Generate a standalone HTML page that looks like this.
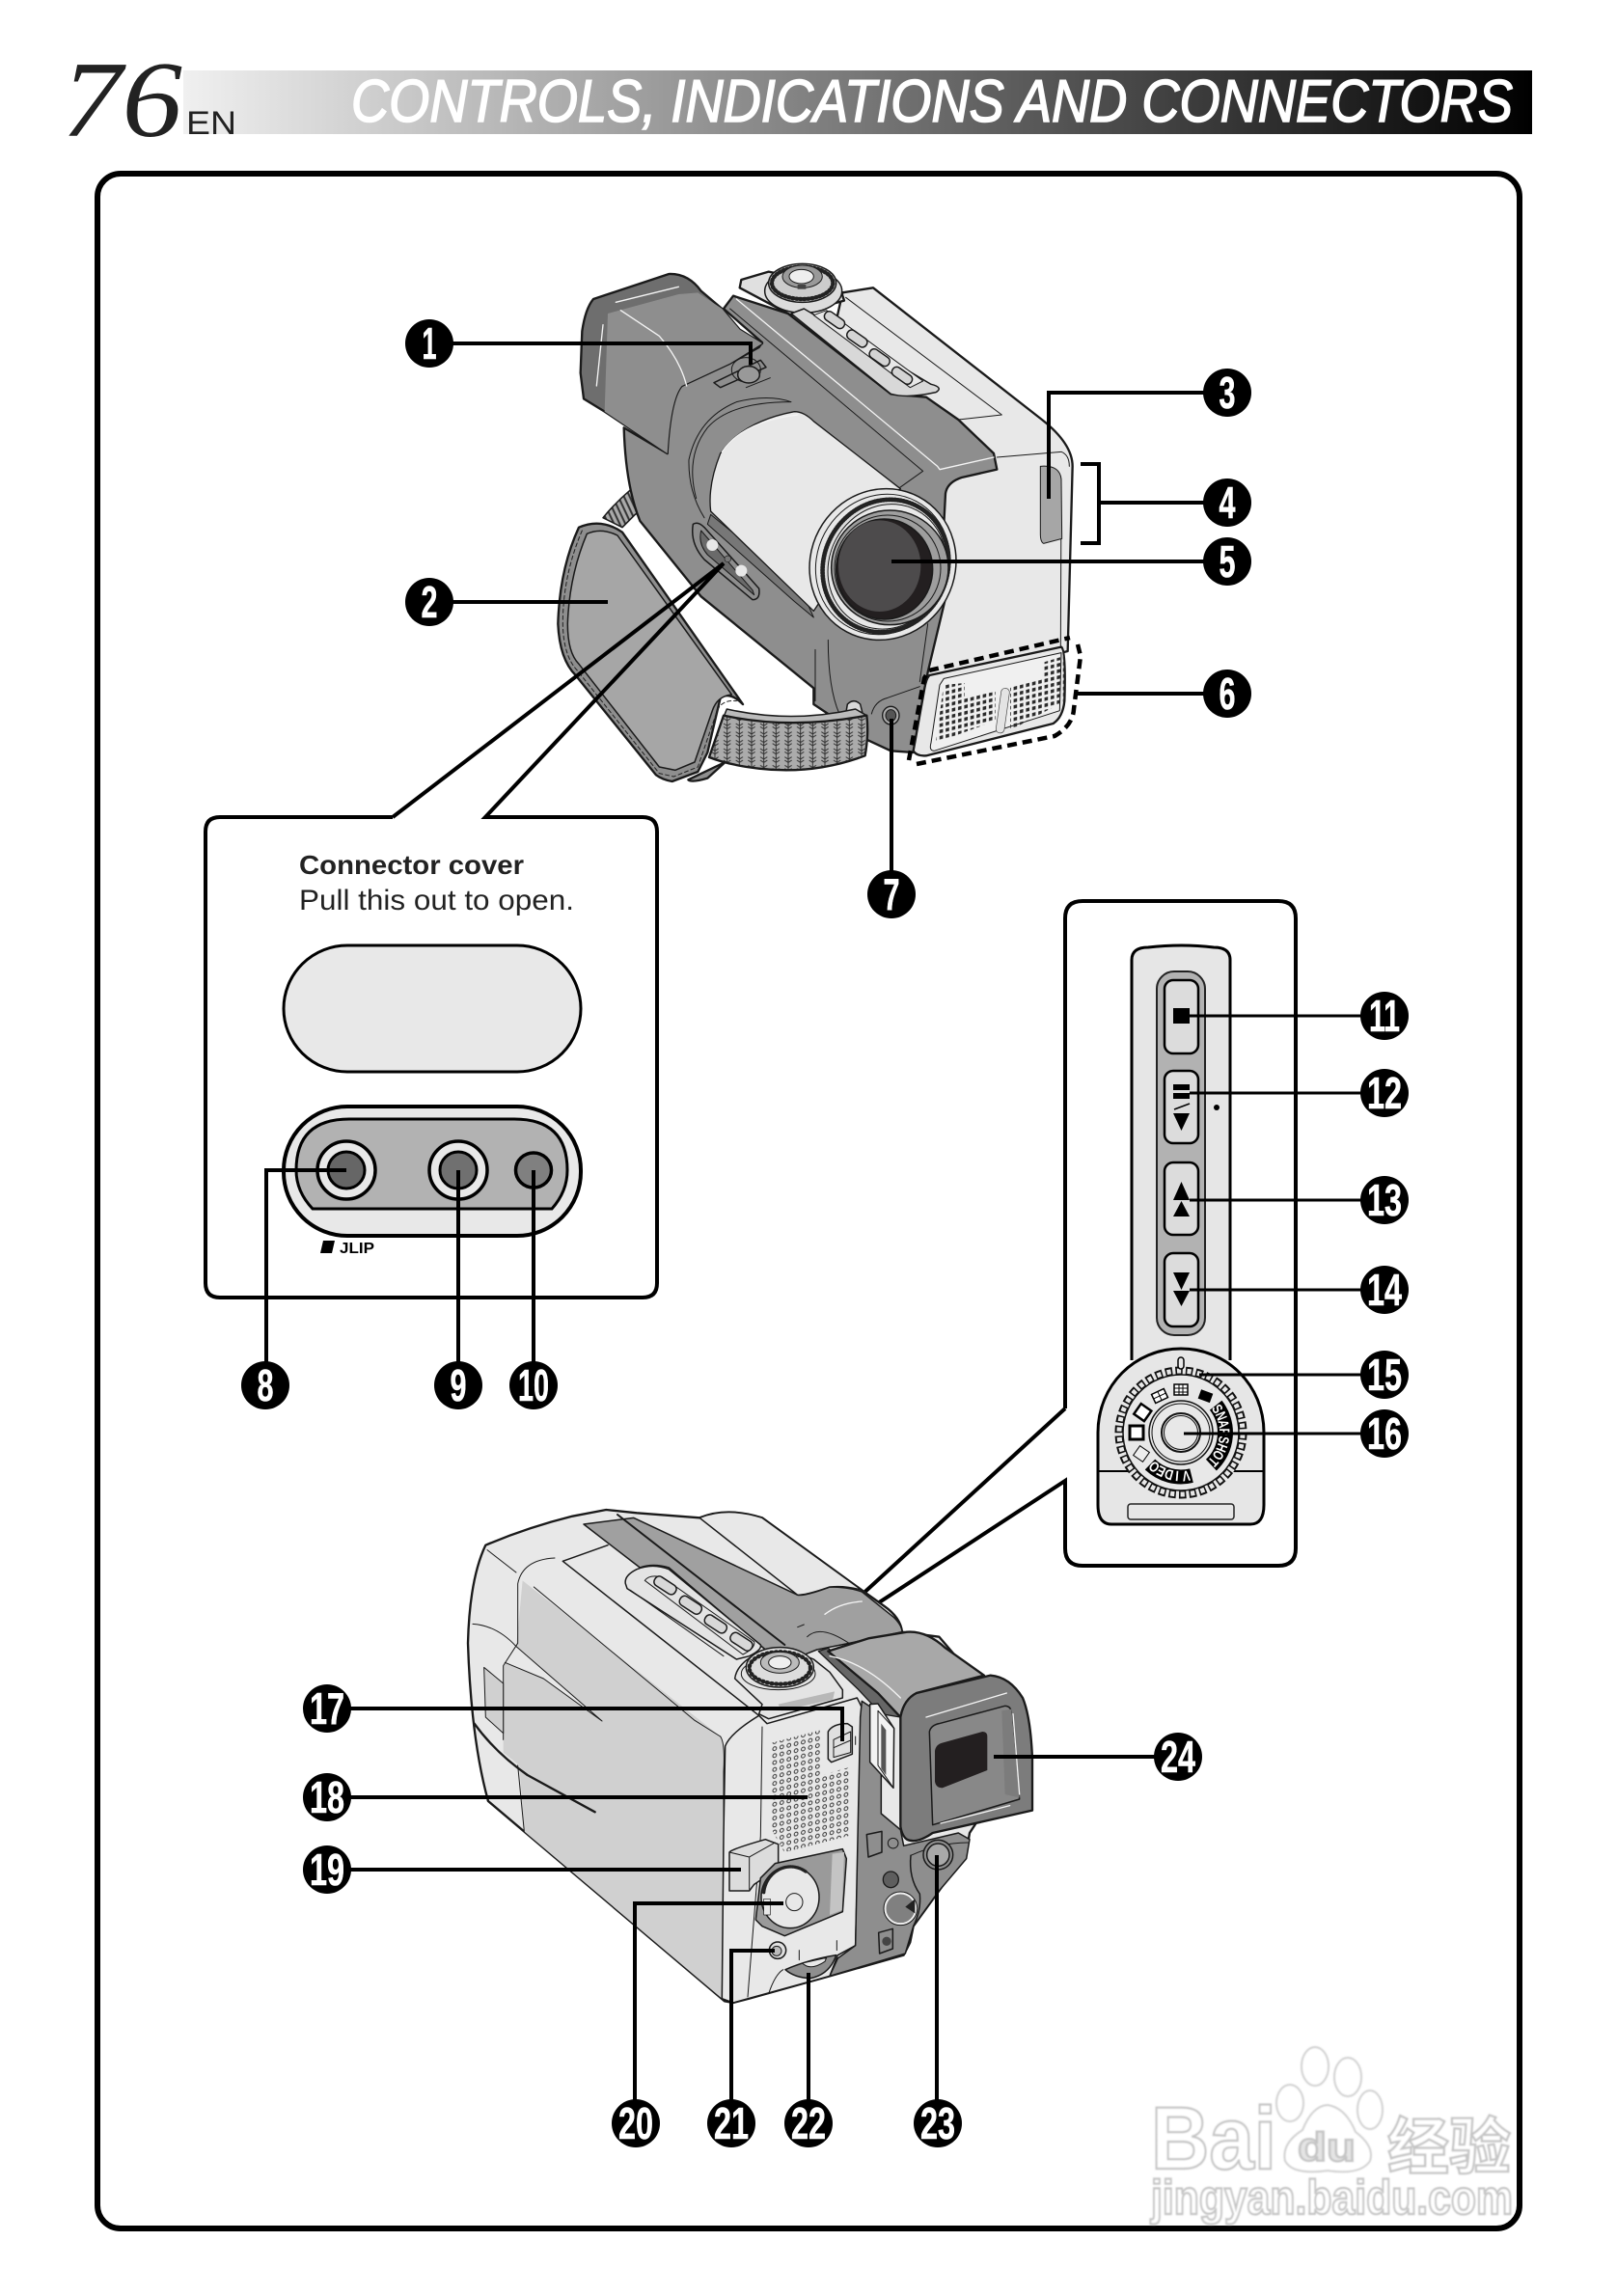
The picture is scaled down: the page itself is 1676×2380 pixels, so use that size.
<!DOCTYPE html>
<html><head><meta charset="utf-8"><title>Controls, Indications and Connectors</title>
<style>
html,body{margin:0;padding:0;background:#fff}
svg{display:block}
.b circle{fill:#000}
.b text{font-family:"Liberation Sans",sans-serif;font-weight:700;font-size:46px;fill:#fff;text-anchor:middle;stroke:#fff;stroke-width:.6}
.l{fill:none;stroke:#000;stroke-width:4}
.l3{fill:none;stroke:#000;stroke-width:3}
.c *{stroke-linejoin:round;stroke-linecap:round}
.k{stroke:#1a1a1a;stroke-width:7}
.m{stroke:#1a1a1a;stroke-width:4.5}
.f{stroke:#1a1a1a;stroke-width:3;fill:none}
.h{stroke:#f4f4f4;stroke-width:4;fill:none}
.w{fill:#fff;stroke:#c4c4c4;stroke-width:2.2;font-family:"Liberation Sans","Noto Sans CJK SC",sans-serif;font-weight:700}
.d text{font-family:"Liberation Sans",sans-serif;font-weight:700;font-size:15px;fill:#fff;text-anchor:middle}
</style></head><body>
<svg xmlns="http://www.w3.org/2000/svg" width="1676" height="2380" viewBox="0 0 1676 2380">
<defs>
<linearGradient id="g" x1="0" x2="1" y1="0" y2="0"><stop offset="0" stop-color="#f0f0f0"/><stop offset="1" stop-color="#000"/></linearGradient>
<filter id="bl"><feGaussianBlur stdDeviation="0.9"/></filter>
<pattern id="dots" width="6.4" height="6.4" patternUnits="userSpaceOnUse" patternTransform="skewY(-14)"><rect x="1" y="1" width="3.6" height="3.6" fill="#2a2a2a"/></pattern>
<pattern id="sp" width="7.4" height="7.2" patternUnits="userSpaceOnUse" patternTransform="skewY(-13)"><circle cx="3.700" cy="3.600" r="1.900" fill="#e8e8e8" stroke="#333" stroke-width="1"/></pattern>
<pattern id="web" width="38" height="26" patternUnits="userSpaceOnUse"><rect width="38" height="26" fill="#ababab"/><path d="M19,0V26M8,6L19,13L30,6M8,16L19,23L30,16" stroke="#333" stroke-width="3" fill="none"/></pattern>
<pattern id="web2" width="16" height="16" patternUnits="userSpaceOnUse" patternTransform="rotate(-25)"><rect width="16" height="16" fill="#aaa"/><path d="M4,0V16" stroke="#333" stroke-width="6"/></pattern>
</defs>
<rect width="1676" height="2380" fill="#fff"/>

<!-- header -->
<rect x="190" y="73" width="1398" height="66" fill="url(#g)"/>
<text x="64" y="141" font-family="'Liberation Serif',serif" font-style="italic" font-size="112" fill="#222" textLength="125" lengthAdjust="spacingAndGlyphs">76</text>
<text x="193" y="139" font-family="'Liberation Sans',sans-serif" font-size="34" fill="#222" textLength="52" lengthAdjust="spacingAndGlyphs">EN</text>
<text x="364" y="126" font-family="'Liberation Sans',sans-serif" font-style="italic" font-size="62" fill="#fff" stroke="#fff" stroke-width="1.6" textLength="1204" lengthAdjust="spacingAndGlyphs">CONTROLS, INDICATIONS AND CONNECTORS</text>

<!-- frame -->
<rect x="101" y="180" width="1474" height="2130" rx="24" fill="#fff" stroke="#000" stroke-width="6"/>

<!-- TOP CAMERA crop A -->
<g class="c" transform="translate(590,270) scale(.33333)">
<path class="m" fill="url(#web2)" d="M275,650Q298,670 282,745L205,790L165,830L105,800Q170,720 275,650Z"/>
<path class="k" fill="#e8e8e8" d="M850,100L945,85L1470,495Q1565,570 1565,640L1550,1215L1100,1330L900,1100L760,500Z"/>
<path class="f" d="M860,115L1345,480L1210,495M1330,612L1530,595Q1555,605 1555,640"/>
<path class="f" d="M1530,700L1528,1200"/>
<path class="k" fill="#8e8e8e" d="M480,150L510,110L680,165L1000,415L1110,425L1210,495L1320,600L1330,650L1220,675Q1175,690 1170,725L1165,820L1170,1050L1115,1280L1070,1530L1000,1525L925,1490L760,1380V1330L410,1045L220,810Q175,700 170,520L305,600L310,460Q320,410 350,390L500,320L590,270L600,255Z"/>
<path class="h" d="M520,120L1145,640L1152,650L1320,612"/>
<path class="f" d="M500,150L1100,655L1020,712"/>
<path class="k" fill="#6e6e6e" d="M40,220Q50,150 75,120L310,42Q370,40 410,95L475,150L530,215L600,258L500,320L350,390Q315,430 305,600L170,510L110,470L45,430L35,350Z"/>
<path fill="#8e8e8e" d="M120,165L340,105L400,100L475,150L530,215L600,258L500,320L350,390Q315,430 305,600L170,510L110,470Z"/>
<path class="h" d="M145,130L340,82M160,155L280,235Q345,310 365,390M105,200L85,390"/>
<path class="k" fill="#e0e0e0" d="M535,60L620,35L840,80L855,125L690,170L530,85Z"/>
<ellipse class="m" cx="728" cy="95" rx="120" ry="68" fill="#dcdcdc"/>
<ellipse class="m" cx="725" cy="70" rx="105" ry="60" fill="#ccc"/>
<ellipse cx="725" cy="70" rx="95" ry="50" fill="none" stroke="#222" stroke-width="13" stroke-dasharray="4 8"/>
<ellipse class="f" cx="725" cy="50" rx="62" ry="35" style="fill:#999"/>
<ellipse class="f" cx="722" cy="50" rx="38" ry="22" style="fill:#eee"/>
<rect x="710" y="75" width="26" height="14" fill="#444"/>
<path class="m" fill="#d8d8d8" d="M690,165L730,150L1125,385Q1165,395 1140,410Q1050,430 1000,415Z"/>
<path class="f" style="fill:#e8e8e8" d="M760,170L800,155L1100,375L1060,395Z"/>
<g class="m" fill="#d4d4d4">
<rect x="790" y="170" width="70" height="30" rx="14" transform="rotate(35 825 185)"/>
<rect x="860" y="228" width="70" height="30" rx="14" transform="rotate(35 895 243)"/>
<rect x="930" y="287" width="70" height="30" rx="14" transform="rotate(35 965 302)"/>
<rect x="1000" y="343" width="70" height="30" rx="14" transform="rotate(35 1035 358)"/>
</g>
<path class="m" fill="#8e8e8e" d="M450,380L595,310L612,332L470,395Z"/>
<ellipse class="f" cx="550" cy="340" rx="45" ry="38"/>
<ellipse class="m" cx="558" cy="355" rx="34" ry="26" fill="#999"/>
<path class="f" d="M550,395L625,365"/>
<path class="f" d="M395,740Q360,610 430,520Q500,440 690,440Q620,415 520,440Q400,490 372,620Q370,720 420,800"/>
<path fill="#777" stroke="#1a1a1a" stroke-width="3" d="M440,790L720,1020L760,1110L700,1060L430,820Z"/>
<path class="k" fill="#e8e8e8" d="M470,600Q540,500 700,470Q730,470 760,500L1030,710L1000,730L760,1090L440,780Q430,700 470,600Z" style="stroke-width:4"/>
<path class="h" d="M475,595Q540,500 710,480"/>
<path class="m" fill="#8e8e8e" d="M385,820Q400,810 420,830L590,1020Q595,1055 570,1055L420,930Q375,880 385,820Z"/>
<path class="f" style="fill:#6a6a6a" d="M410,840L570,1025L575,1040L430,915Q400,880 410,840Z"/>
<circle cx="445" cy="885" r="18" fill="#e8e8e8"/><circle cx="535" cy="965" r="18" fill="#e8e8e8"/>
<circle cx="493" cy="928" r="10" fill="#777" stroke="#222" stroke-width="2"/>
<path class="f" style="fill:#a6a6a6" d="M1465,640Q1525,635 1530,680L1532,865L1475,880Q1465,875 1465,850Z"/>
<g transform="rotate(28 975 945)">
<ellipse class="m" cx="975" cy="945" rx="225" ry="238" fill="#e8e8e8"/>
<ellipse class="f" cx="975" cy="945" rx="205" ry="222"/>
<ellipse cx="985" cy="945" rx="192" ry="210" fill="#dcdcdc" stroke="#222" stroke-width="14" stroke-dasharray="4 5"/>
<ellipse class="f" cx="990" cy="945" rx="180" ry="198" style="fill:#e8e8e8"/>
</g>
<ellipse class="m" cx="997" cy="955" rx="182" ry="178" fill="#9e9e9e"/>
<ellipse class="f" cx="990" cy="957" rx="165" ry="165"/>
<ellipse class="m" cx="980" cy="960" rx="150" ry="156" fill="#231f20"/>
<ellipse cx="965" cy="950" rx="128" ry="142" fill="#4d4b4c"/>
</g>

<!-- crop B: pad, strap -->
<g class="c" transform="translate(570,540) scale(.33333)">
<path class="k" fill="#8e8e8e" d="M440,800L545,750L490,800Q440,815 430,805Z"/>
<path class="k" fill="#8e8e8e" d="M90,20Q160,-10 225,35L600,570Q560,530 530,550L490,720L460,780L380,810Q350,805 330,790L80,480Q30,430 25,320Q30,150 90,20Z"/>
<path class="m" fill="#a6a6a6" d="M115,40Q160,20 210,45L565,540Q520,545 505,590L450,750L390,775L340,765L90,445Q55,410 55,320Q60,170 115,40Z"/>
<path fill="none" stroke="#222" stroke-width="3" stroke-dasharray="12 9" d="M100,30Q40,170 40,320Q42,420 85,465L340,785L385,795L460,765L520,590Q535,555 580,560"/>
<path class="f" d="M825,400V560M865,370Q865,520 900,600M1175,320L1150,500"/>
<path class="f" d="M1000,600Q1010,560 1050,550L1150,515"/>
<ellipse cx="1060" cy="605" rx="26" ry="28" fill="#aaa" stroke="#1a1a1a" stroke-width="4"/>
<ellipse cx="1060" cy="605" rx="16" ry="18" fill="#555" stroke="#1a1a1a" stroke-width="3"/>
<path class="m" fill="#d8d8d8" d="M920,600L925,570Q945,550 965,570L975,610Z"/>
<path class="m" fill="#bbb" d="M550,585Q750,630 950,585L985,605Q750,650 540,610Z"/>
<path class="k" fill="url(#web)" d="M540,605Q750,650 985,605Q992,660 980,730Q820,790 650,770Q560,760 495,735Z"/>
<path class="k" fill="#e8e8e8" d="M1180,480L1590,392Q1605,400 1600,560Q1595,610 1565,630L1170,730Q1140,732 1130,715L1165,520Q1170,490 1180,480Z"/>
<path class="f" style="fill:#f0f0f0" d="M1225,490L1590,410L1585,590L1195,715Q1178,715 1185,690L1212,510Z"/>
<rect x="1395" y="520" width="26" height="140" rx="12" fill="#e4e4e4" stroke="#444" stroke-width="2" transform="rotate(8 1408 590)"/>
</g>
<path fill="url(#dots)" d="M978,710L1000,708L1000,723L1032,717L1032,747L970,770Z"/>
<path fill="url(#dots)" d="M1047,713L1080,703L1080,687L1103,680L1103,727L1047,757Z"/>
<path fill="none" stroke="#000" stroke-width="4.500" stroke-dasharray="10 6" d="M942,788L958,703L963,695L1109,661M950,792L1093,763Q1112,752 1113,735L1120,680L1117,668"/>

<!-- connector panel -->
<path class="l" d="M407,847H228Q213,847 213,862V1330Q213,1345 228,1345H666Q681,1345 681,1330V862Q681,847 666,847H503L750,584L407,847"/>
<text x="310" y="906" font-family="'Liberation Sans',sans-serif" font-weight="700" font-size="28" fill="#222" textLength="233" lengthAdjust="spacingAndGlyphs">Connector cover</text>
<text x="310" y="943" font-family="'Liberation Sans',sans-serif" font-size="30" fill="#222" textLength="285" lengthAdjust="spacingAndGlyphs">Pull this out to open.</text>
<rect x="294" y="980" width="308" height="131" rx="66" fill="#e8e8e8" stroke="#000" stroke-width="3"/>
<rect x="294" y="1147" width="308" height="134" rx="66" fill="#e8e8e8" stroke="#000" stroke-width="4"/>
<path d="M324,1253Q307,1235 307,1213Q307,1160 362,1160H533Q588,1160 588,1213Q588,1235 572,1253Z" fill="#b2b2b2" stroke="#000" stroke-width="3"/>
<circle cx="359" cy="1213" r="30" fill="#e8e8e8" stroke="#000" stroke-width="3.500"/><circle cx="359" cy="1213" r="19" fill="#666" stroke="#000" stroke-width="3"/>
<circle cx="475" cy="1213" r="30" fill="#e8e8e8" stroke="#000" stroke-width="3.500"/><circle cx="475" cy="1213" r="19" fill="#707070" stroke="#000" stroke-width="3"/>
<ellipse cx="553" cy="1213" rx="18.500" ry="18" fill="#808080" stroke="#000" stroke-width="3.500"/>
<path class="l" d="M359,1213H276V1436M475,1213V1436M553,1213V1436"/>
<path d="M335,1286H347L344,1299H332Z" fill="#000"/>
<text x="352" y="1299" font-family="'Liberation Sans',sans-serif" font-weight="700" font-size="16" fill="#000" textLength="36" lengthAdjust="spacingAndGlyphs">JLIP</text>

<!-- control panel -->
<path class="l" d="M1104,1460V952Q1104,934 1122,934H1325Q1343,934 1343,952V1605Q1343,1623 1325,1623H1122Q1104,1623 1104,1605V1535L818,1722L1104,1460"/>
<path d="M1173,1410V995Q1173,982 1190,982Q1225,978 1258,982Q1275,982 1275,995V1410" fill="#e6e6e6" stroke="#000" stroke-width="3"/>
<path d="M1138,1560V1485C1138,1436 1176,1398 1224,1398C1272,1398 1310,1436 1310,1485V1560Q1310,1580 1296,1580H1152Q1138,1580 1138,1560Z" fill="#e6e6e6" stroke="#000" stroke-width="3"/>
<path d="M1138,1525H1310" stroke="#000" stroke-width="2"/>
<rect x="1169" y="1559" width="110" height="16" rx="3" fill="#e6e6e6" stroke="#222" stroke-width="1.500"/>
<rect x="1199" y="1007" width="50" height="377" rx="18" fill="#b2b2b2" stroke="#222" stroke-width="2"/>
<g fill="#dcdcdc" stroke="#000" stroke-width="2.500">
<rect x="1207" y="1016" width="35" height="76" rx="9"/><rect x="1207" y="1110" width="35" height="75" rx="9"/><rect x="1207" y="1205" width="35" height="75" rx="9"/><rect x="1207" y="1299" width="35" height="76" rx="9"/>
</g>
<rect x="1216" y="1045" width="17" height="16" fill="#000"/>
<rect x="1216" y="1124" width="17" height="6" fill="#000"/><rect x="1216" y="1133" width="17" height="6" fill="#000"/>
<path d="M1217,1150L1233,1144" stroke="#000" stroke-width="1.500"/>
<path d="M1216,1154H1233L1224.500,1172ZM1224.500,1225L1233,1244H1216ZM1224.500,1245L1233,1261H1216ZM1216,1319H1233L1224.500,1337ZM1216,1338H1233L1224.500,1354Z" fill="#000"/>
<circle cx="1261" cy="1148" r="3" fill="#000"/>
<!-- dial -->
<circle cx="1224" cy="1485" r="68" fill="#e8e8e8"/>
<circle cx="1224" cy="1485" r="64" fill="none" stroke="#111" stroke-width="9" pathLength="380" stroke-dasharray="7 3"/>
<circle cx="1224" cy="1485" r="64" fill="none" stroke="#e8e8e8" stroke-width="5" pathLength="380" stroke-dasharray="4 6" stroke-dashoffset="-1.500"/>
<circle cx="1224" cy="1485" r="60" fill="#e8e8e8" stroke="#111" stroke-width="1.500"/>
<path d="M1260.200,1456.700A46,46 0 0 1 1255.400,1518.600" fill="none" stroke="#000" stroke-width="16"/>
<path d="M1235,1529.600A46,46 0 0 1 1192,1518" fill="none" stroke="#000" stroke-width="15"/>
<g class="d">
<text transform="translate(1257.600,1463.200) rotate(57) scale(.75,1)">S</text>
<text transform="translate(1261,1469.800) rotate(67.700) scale(.75,1)">N</text>
<text transform="translate(1263.200,1477) rotate(78.400) scale(.75,1)">A</text>
<text transform="translate(1264,1484.400) rotate(89.100) scale(.75,1)">P</text>
<text transform="translate(1263.400,1491.800) rotate(99.800) scale(.75,1)">S</text>
<text transform="translate(1261.500,1499) rotate(110.500) scale(.75,1)">H</text>
<text transform="translate(1258.200,1505.700) rotate(121.200) scale(.75,1)">O</text>
<text transform="translate(1253.700,1511.800) rotate(132) scale(.75,1)">T</text>
<text transform="translate(1228.900,1524.700) rotate(173) scale(.8,1)">V</text>
<text transform="translate(1220.500,1524.800) rotate(185) scale(.8,1)">I</text>
<text transform="translate(1213,1523.400) rotate(196) scale(.8,1)">D</text>
<text transform="translate(1205.800,1520.600) rotate(207) scale(.8,1)">E</text>
<text transform="translate(1199.400,1516.500) rotate(218) scale(.8,1)">O</text>
</g>
<circle cx="1224" cy="1485" r="33" fill="#e8e8e8" stroke="#111" stroke-width="1.500"/>
<circle cx="1224" cy="1485" r="30" fill="none" stroke="#111" stroke-width="1"/>
<circle cx="1224" cy="1485" r="20" fill="#e8e8e8" stroke="#111" stroke-width="2"/>
<circle cx="1224" cy="1485" r="17.500" fill="none" stroke="#111" stroke-width="1"/>
<rect x="1171" y="1478" width="14" height="14" fill="#fff" stroke="#000" stroke-width="3"/>
<rect x="1178" y="1458" width="13" height="13" fill="#fff" stroke="#000" stroke-width="2.500" transform="rotate(35 1185 1464)"/>
<rect x="1195" y="1442" width="14" height="10" fill="#fff" stroke="#000" stroke-width="1.500" transform="rotate(-25 1202 1447)"/>
<path d="M1202,1442V1452M1195,1447H1209" stroke="#000" stroke-width="1" transform="rotate(-25 1202 1447)"/>
<rect x="1217" y="1435" width="14" height="11" fill="#fff" stroke="#000" stroke-width="1.500"/>
<path d="M1222,1435V1446M1226,1435V1446M1217,1439H1231M1217,1443H1231" stroke="#000" stroke-width="1"/>
<rect x="1243" y="1442" width="13" height="10" fill="#000" transform="rotate(20 1249 1447)"/>
<rect x="1177" y="1501" width="12" height="12" fill="#eee" stroke="#000" stroke-width="1" transform="rotate(35 1183 1507)"/>
<rect x="1221" y="1407" width="6" height="12" rx="3" fill="#e8e8e8" stroke="#000" stroke-width="1.500"/>
<path class="l3" d="M1233,1053H1435M1233,1133H1435M1233,1244H1435M1233,1337H1435M1243,1425H1435M1227,1486H1435"/>

<!-- LOWER CAMERA crop C -->
<g class="c" transform="translate(480,1570) scale(.33333)">
<path class="k" fill="#e8e8e8" stroke-width="8" d="M70,95Q200,40 340,5L445,-15L540,-5L735,10Q820,-25 930,10L1240,235L1310,285Q1360,320 1365,365L1480,380L1600,520L1700,800L1575,990L1565,1050L1480,1170L1400,1280L1390,1330L1370,1370L1140,1435L890,1505L840,1518L813,1513L78,891Q25,700 15,400Q20,200 70,95Z"/>
<path fill="#d0d0d0" d="M185,205L800,685Q815,710 810,800L805,1505L190,985L175,780L125,740L125,470L165,415Z"/>
<path fill="#e8e8e8" d="M30,340Q100,345 165,410L432,642L250,510L130,460Z"/>
<path fill="#e8e8e8" d="M185,205Q175,140 290,135L310,145L450,95L850,450L840,520L920,575L925,625L800,690Z"/>
<path class="m" fill="#a0a0a0" d="M375,30L530,10L1040,250Q1060,255 1140,225Q1200,225 1240,240L1340,320Q1365,345 1365,365L1200,400L1100,420L1050,440L940,420L640,165Q590,150 550,165Z"/>
<path class="m" fill="#e8e8e8" d="M735,10Q820,-25 930,10L1240,235Q1190,220 1140,225Q1070,250 1040,250Z"/>
<path class="k" fill="none" d="M480,0L1000,405" style="stroke-width:6"/>
<path class="h" d="M1125,310Q1170,275 1240,270"/>
<path class="f" d="M1040,350L1060,342M1070,380Q1110,340 1200,400"/>
<path class="f" d="M75,110L165,180M220,225L720,640L800,690"/>
<path class="m" fill="none" d="M310,145L450,95M310,145L920,625"/>
<path class="f" d="M125,700L125,470L170,400V215Q185,140 285,135M30,340Q105,345 165,410L432,642M130,460L250,510L432,642"/>
<path fill="#d0d0d0" stroke="#1a1a1a" stroke-width="3" d="M65,475L125,525V680L70,630Z"/>
<path class="k" fill="none" d="M35,650Q100,740 200,810L410,925"/>
<path class="f" d="M170,780L190,985M800,690Q815,710 810,800V1010L805,1505M75,890L190,985"/>
<path class="m" fill="#e4e4e4" d="M505,215Q500,190 540,170Q590,150 640,170L925,405Q930,420 890,440L850,450L510,230Z"/>
<path class="f" d="M565,205Q580,185 620,195L905,395Q910,415 870,435ZM520,235L810,440"/>
<g class="m" fill="#d8d8d8">
<rect x="591" y="204" width="75" height="32" rx="14" transform="rotate(33 628 220)"/>
<rect x="670" y="265" width="75" height="32" rx="14" transform="rotate(33 707 281)"/>
<rect x="748" y="324" width="75" height="32" rx="14" transform="rotate(33 785 340)"/>
<rect x="828" y="379" width="75" height="32" rx="14" transform="rotate(33 865 395)"/>
</g>
<path class="m" fill="#e8e8e8" d="M920,625Q830,680 815,720L810,1000L805,1505L840,1518L1140,1435L1165,1370L1220,1340L1240,600L1225,570L945,650Z"/>
<path class="f" d="M930,660L925,1000L885,1500"/>
<path class="m" fill="#e4e4e4" d="M845,510Q850,470 900,440Q1000,410 1090,450L1140,490L1180,545L1180,570L950,635L920,620L930,590Z"/>
<path fill="#b8b8b8" d="M980,590L1155,550L1150,575L990,610Z"/>
<ellipse class="f" cx="980" cy="495" rx="115" ry="50"/>
<ellipse class="m" cx="985" cy="475" rx="105" ry="62" fill="#ddd"/>
<ellipse cx="985" cy="477" rx="95" ry="50" fill="none" stroke="#222" stroke-width="13" stroke-dasharray="3 11"/>
<ellipse class="f" cx="985" cy="460" rx="60" ry="33" style="fill:#bbb"/>
<ellipse class="f" cx="985" cy="460" rx="35" ry="20" style="fill:#eee"/>
</g>

<path fill="url(#sp)" d="M798,1807L852,1793V1840L880,1832V1903L813,1920L800,1897Z"/>

<!-- crop D -->
<g class="c" transform="translate(740,1680) scale(.33333)">
<path class="m" fill="#8e8e8e" d="M460,250L520,290V600L580,650L590,700L760,660L795,680L785,740L700,840L620,950L595,1035L360,1105L385,1050L440,1010L455,300Z"/>
<path class="m" fill="none" d="M612,730Q605,800 640,850Q645,900 620,950"/>
<path class="f" d="M612,730Q700,690 790,690"/>
<path fill="#666" stroke="#1a1a1a" stroke-width="4" d="M325,95L355,85L510,225L580,300L520,290L450,215Z"/>
<path class="k" fill="#a8a8a8" d="M355,95L480,55L600,35Q660,30 720,85L840,170L630,225Q590,245 580,300L510,225Z"/>
<path class="h" d="M360,110Q470,130 580,240"/>
<path class="m" fill="#f2f2f2" d="M485,260L510,258L560,335L558,520L485,440Z"/>
<path class="f" d="M510,280L510,450L558,520M510,280L560,335"/>
<path fill="#555" d="M520,320L535,340V480L520,460Z"/>
<path class="k" fill="#7c7c7c" d="M580,300Q590,245 630,225L860,170Q920,175 960,240Q985,300 990,430L990,590L680,660Q630,695 600,680Q585,670 580,640Z"/>
<path class="m" fill="#888" d="M670,345Q675,325 700,320L905,265Q925,265 925,290L950,555L680,635Z"/>
<path fill="#7c7c7c" d="M895,280L925,275L950,550L905,540Z"/>
<path class="h" d="M660,300L910,225M705,630L920,575M930,290L950,540"/>
<path fill="#231f20" d="M687,405Q690,385 710,380L835,345Q850,345 850,360V465L710,520Q690,520 687,500Z"/>
<path class="m" fill="#e0e0e0" d="M355,345Q370,320 415,320L430,330V415L365,440L355,430Z"/>
<path class="f" d="M372,370L425,345V410L372,425ZM372,395L425,372"/>
<path class="f" d="M440,360V385"/>
<path class="m" fill="#dcdcdc" d="M48,720Q55,710 160,680L200,695V770L125,820L110,840H48Z"/>
<path class="f" d="M48,720L110,735V835M110,735L190,690"/>
<path class="m" fill="#9a9a9a" d="M190,755L400,710L412,740L400,905L220,980L150,950L130,930L145,800Z"/>
<path fill="#c4c4c4" d="M368,725L405,720L398,900L360,915Z"/>
<ellipse class="m" cx="237" cy="860" rx="90" ry="96" fill="#e8e8e8"/>
<path fill="none" stroke="#222" stroke-width="10" stroke-dasharray="2.500 3" d="M155,845A84,90 0 0 1 285,780"/>
<ellipse class="f" cx="250" cy="875" rx="26" ry="27"/>
<rect x="155" y="865" width="20" height="50" fill="#e8e8e8" stroke="#1a1a1a" stroke-width="2"/>
<circle class="m" cx="198" cy="1025" r="26" fill="#e0e0e0"/>
<circle class="f" cx="195" cy="1027" r="15" style="fill:#bbb"/>
<path class="f" d="M265,1025V1055M382,995V1025M215,1085Q190,1100 170,1160"/>
<path class="m" fill="#8e8e8e" d="M222,1085Q290,1055 380,1040Q360,1100 300,1112Q250,1110 222,1085Z"/>
<path fill="#e8e8e8" stroke="#1a1a1a" stroke-width="3" d="M275,1065Q300,1090 345,1060L350,1048Z"/>
<path class="m" fill="#8e8e8e" d="M475,665L522,655V720L480,735Z"/>
<circle class="f" cx="557" cy="692" r="16"/>
<ellipse cx="550" cy="805" rx="24" ry="25" fill="#5e5e5e" stroke="#1a1a1a" stroke-width="4"/>
<circle cx="580" cy="895" r="48" fill="#808080" stroke="#f0f0f0" stroke-width="7"/>
<circle cx="580" cy="895" r="52" fill="none" stroke="#1a1a1a" stroke-width="3"/>
<path d="M595,890L625,865V910Z" fill="#222"/>
<path class="m" fill="#8e8e8e" d="M512,970L556,958V1020L515,1035Z"/>
<circle cx="537" cy="997" r="14" fill="#444"/>
<circle class="m" cx="697" cy="728" r="46" fill="#8e8e8e"/>
<circle class="m" cx="697" cy="728" r="35" fill="#a8a8a8"/>
</g>

<!-- leaders -->
<path class="l" d="M445,356H778V378M445,624H630M1272,407H1087V517M1272,521H1140M1120,481H1139V563H1120M1272,582H924M1272,719H1114M924,745V927"/>
<path class="l" d="M339,1771H873V1805M339,1863H837M339,1938H768M812,1973H658V2201M803,2022H758V2201M838,2045V2201M971,1923V2201M1030,1821H1220"/>

<!-- badges -->
<g class="b">
<g><circle cx="445" cy="356" r="25"/><text x="445" y="372" textLength="15" lengthAdjust="spacingAndGlyphs">1</text></g>
<g><circle cx="445" cy="624" r="25"/><text x="445" y="640" textLength="17" lengthAdjust="spacingAndGlyphs">2</text></g>
<g><circle cx="1272" cy="407" r="25"/><text x="1272" y="423" textLength="17" lengthAdjust="spacingAndGlyphs">3</text></g>
<g><circle cx="1272" cy="521" r="25"/><text x="1272" y="537" textLength="17" lengthAdjust="spacingAndGlyphs">4</text></g>
<g><circle cx="1272" cy="582" r="25"/><text x="1272" y="598" textLength="17" lengthAdjust="spacingAndGlyphs">5</text></g>
<g><circle cx="1272" cy="719" r="25"/><text x="1272" y="735" textLength="17" lengthAdjust="spacingAndGlyphs">6</text></g>
<g><circle cx="924" cy="927" r="25"/><text x="924" y="943" textLength="17" lengthAdjust="spacingAndGlyphs">7</text></g>
<g><circle cx="275" cy="1436" r="25"/><text x="275" y="1452" textLength="17" lengthAdjust="spacingAndGlyphs">8</text></g>
<g><circle cx="475" cy="1436" r="25"/><text x="475" y="1452" textLength="17" lengthAdjust="spacingAndGlyphs">9</text></g>
<g><circle cx="553" cy="1436" r="25"/><text x="553" y="1452" textLength="32" lengthAdjust="spacingAndGlyphs">10</text></g>
<g><circle cx="1435" cy="1053" r="25"/><text x="1435" y="1069" textLength="32" lengthAdjust="spacingAndGlyphs">11</text></g>
<g><circle cx="1435" cy="1133" r="25"/><text x="1435" y="1149" textLength="36" lengthAdjust="spacingAndGlyphs">12</text></g>
<g><circle cx="1435" cy="1244" r="25"/><text x="1435" y="1260" textLength="36" lengthAdjust="spacingAndGlyphs">13</text></g>
<g><circle cx="1435" cy="1337" r="25"/><text x="1435" y="1353" textLength="36" lengthAdjust="spacingAndGlyphs">14</text></g>
<g><circle cx="1435" cy="1425" r="25"/><text x="1435" y="1441" textLength="36" lengthAdjust="spacingAndGlyphs">15</text></g>
<g><circle cx="1435" cy="1486" r="25"/><text x="1435" y="1502" textLength="36" lengthAdjust="spacingAndGlyphs">16</text></g>
<g><circle cx="339" cy="1771" r="25"/><text x="339" y="1787" textLength="36" lengthAdjust="spacingAndGlyphs">17</text></g>
<g><circle cx="339" cy="1863" r="25"/><text x="339" y="1879" textLength="36" lengthAdjust="spacingAndGlyphs">18</text></g>
<g><circle cx="339" cy="1938" r="25"/><text x="339" y="1954" textLength="36" lengthAdjust="spacingAndGlyphs">19</text></g>
<g><circle cx="659" cy="2201" r="25"/><text x="659" y="2217" textLength="36" lengthAdjust="spacingAndGlyphs">20</text></g>
<g><circle cx="758" cy="2201" r="25"/><text x="758" y="2217" textLength="36" lengthAdjust="spacingAndGlyphs">21</text></g>
<g><circle cx="838" cy="2201" r="25"/><text x="838" y="2217" textLength="36" lengthAdjust="spacingAndGlyphs">22</text></g>
<g><circle cx="972" cy="2201" r="25"/><text x="972" y="2217" textLength="36" lengthAdjust="spacingAndGlyphs">23</text></g>
<g><circle cx="1221" cy="1821" r="25"/><text x="1221" y="1837" textLength="36" lengthAdjust="spacingAndGlyphs">24</text></g>
</g>

<!-- watermark -->
<g filter="url(#bl)">
<text class="w" x="1193" y="2248" font-size="92" textLength="130" lengthAdjust="spacingAndGlyphs">Bai</text>
<g fill="#fff" stroke="#d0d0d0" stroke-width="2">
<ellipse cx="1363" cy="2142" rx="14" ry="20"/><ellipse cx="1397" cy="2153" rx="14" ry="20"/><ellipse cx="1337" cy="2180" rx="14" ry="19"/><ellipse cx="1420" cy="2187" rx="13" ry="20"/>
<path d="M1376,2182Q1395,2185 1405,2210Q1425,2225 1420,2240Q1410,2255 1376,2250Q1340,2255 1332,2240Q1328,2222 1350,2208Q1360,2183 1376,2182Z"/>
</g>
<text class="w" x="1345" y="2240" font-size="42" textLength="60" lengthAdjust="spacingAndGlyphs" style="fill:#e4e4e4">du</text>
<text class="w" x="1438" y="2248" font-size="64" textLength="128" lengthAdjust="spacingAndGlyphs">经验</text>
<text class="w" x="1193" y="2295" font-size="50" textLength="375" lengthAdjust="spacingAndGlyphs">jingyan.baidu.com</text>
</g>
</svg>
</body></html>
